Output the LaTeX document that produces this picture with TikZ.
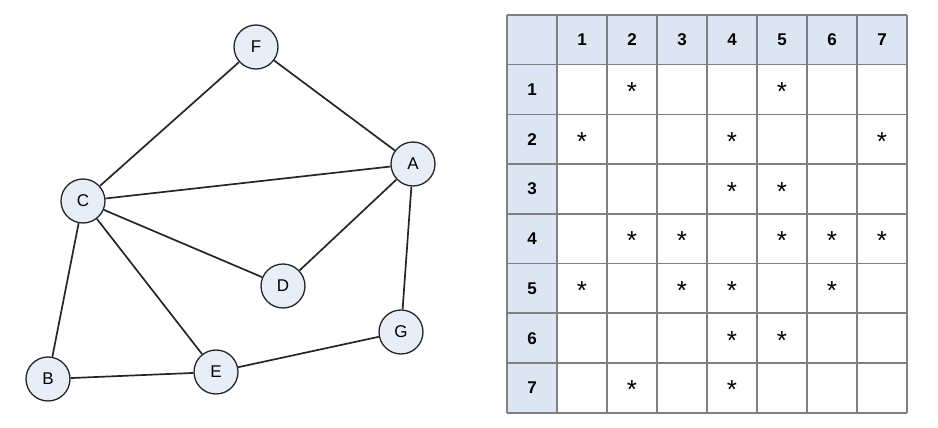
\documentclass[tikz,border=0pt]{standalone}
\usepackage{fontspec}
\setmainfont{Liberation Sans}
\begin{document}
\begin{tikzpicture}[x=1pt,y=-1pt,
  vert/.style={circle,draw=black!85,line width=1.3pt,fill=vfill,minimum size=44pt,inner sep=0pt,font=\fontsize{17}{17}\selectfont},
  edge/.style={draw=black!85,line width=1.7pt},
  gridline/.style={draw=grid,line width=1.5pt},
  hdr/.style={font=\bfseries\fontsize{17}{17}\selectfont},
  star/.style={inner sep=0pt,font=\fontsize{26}{26}\selectfont}]
\definecolor{vfill}{HTML}{E8EEF7}
\definecolor{hfill}{HTML}{DCE6F2}
\definecolor{grid}{HTML}{808080}
\useasboundingbox (0,0) rectangle (938,428);
\node[vert] (F) at (256,47) {F};
\node[vert] (A) at (413,164) {A};
\node[vert] (C) at (83,201) {C};
\node[vert] (D) at (283,286) {D};
\node[vert] (G) at (401,332) {G};
\node[vert] (E) at (216,372) {E};
\node[vert] (B) at (48,379) {B};
\draw[edge] (F) -- (C);
\draw[edge] (F) -- (A);
\draw[edge] (C) -- (A);
\draw[edge] (C) -- (D);
\draw[edge] (A) -- (D);
\draw[edge] (A) -- (G);
\draw[edge] (C) -- (B);
\draw[edge] (C) -- (E);
\draw[edge] (B) -- (E);
\draw[edge] (E) -- (G);
% table
\fill[hfill] (507,15) rectangle (907,65);
\fill[hfill] (507,15) rectangle (557,413);
\foreach \i in {0,...,8} {
  \draw[gridline] (507+50*\i,15) -- (507+50*\i,413);
}
\foreach \i in {0,...,7} {
  \draw[gridline] (507,15+49.7*\i) -- (907,15+49.7*\i);
}
\draw[gridline] (507,413) -- (907,413);
\foreach \i in {1,...,7} {
  \node[hdr] (c\i) at (532+50*\i,40) {\i};
  \node[hdr] (r\i) at (532,40+49.7*\i) {\i};
}
\foreach \r/\c in {1/2,1/5,2/1,2/4,2/7,3/4,3/5,4/2,4/3,4/5,4/6,4/7,5/1,5/3,5/4,5/6,6/4,6/5,7/2,7/4} {
  \node[star] (s\r\c) at (532+50*\c,42+49.7*\r) {*};
}
\end{tikzpicture}
\end{document}
